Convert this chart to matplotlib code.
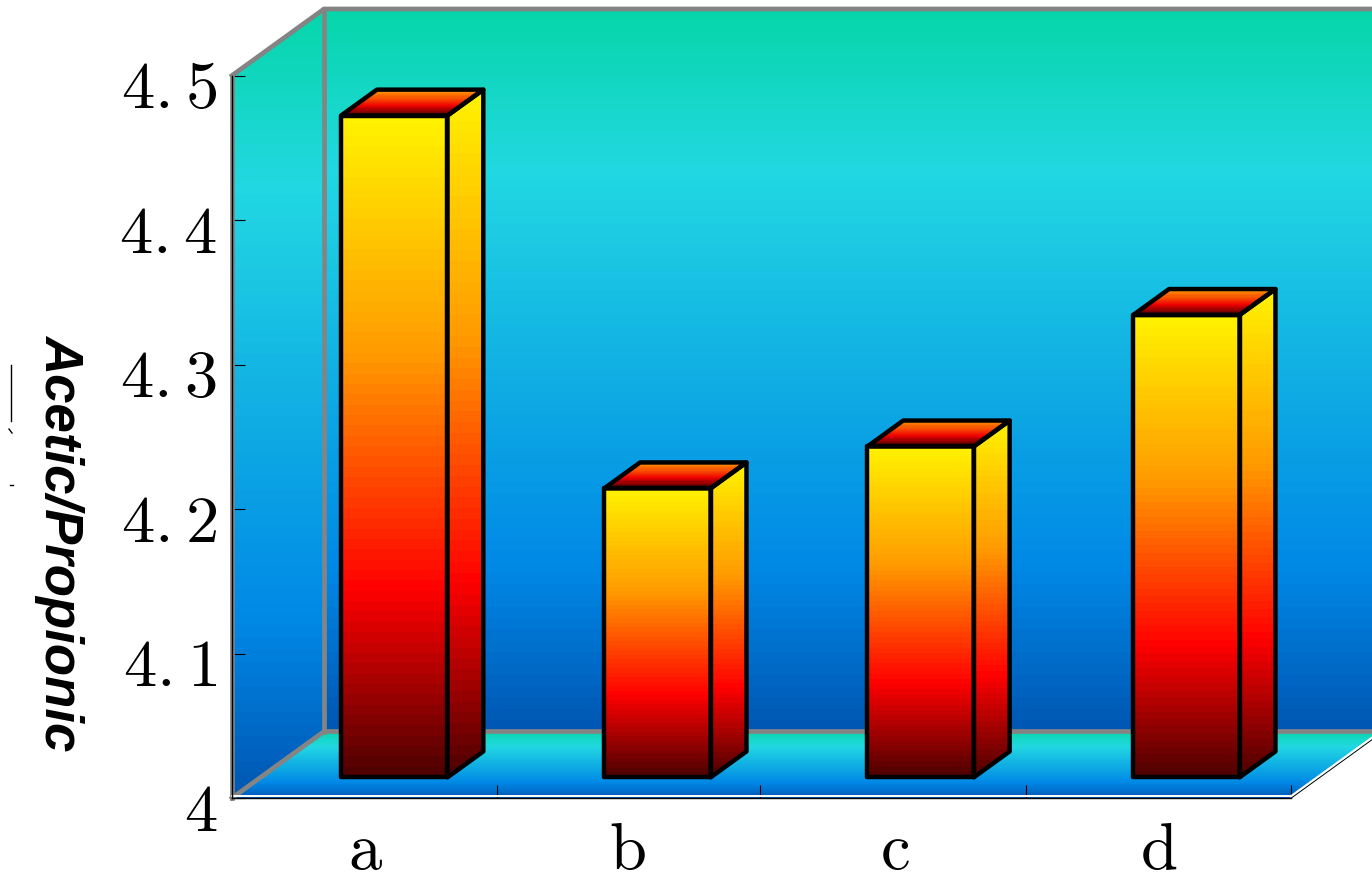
import matplotlib
matplotlib.use('Agg')
import matplotlib.pyplot as plt
import numpy as np
from matplotlib.colors import LinearSegmentedColormap
from matplotlib.lines import Line2D
from matplotlib.patches import Polygon
from matplotlib.transforms import ScaledTranslation

categories = ['a', 'b', 'c', 'd']
values = [4.458, 4.200, 4.229, 4.320]
y_ticks = [4.0, 4.1, 4.2, 4.3, 4.4, 4.5]
y_tick_labels = ['4', '4. 1', '4. 2', '4. 3', '4. 4', '4. 5']
y_title = 'Acetic/Propionic'

# layout, in pixels of the 1372x880 picture
W, H = 1372, 880
LEFT, RIGHT, TOP, BOTTOM = 232, 1291, 75.5, 798
DX, DY = 92, 66.5        # depth of the box
BAR_DEPTH0 = 0.31        # front of the bars, as share of the box depth
BAR_DEPTH1 = 0.70        # back of the bars
BAR_WIDTH = 0.402
bar_centers = [0.505, 1.499, 2.493, 3.497]
edge_ticks = [1.0, 1.994, 3.0, 4.0]
label_centers = [0.505, 1.495, 2.505, 3.5]

plt.rcParams['mathtext.fontset'] = 'cm'

wall_cmap = LinearSegmentedColormap.from_list('wall', [
    (0.0, '#06d6aa'), (0.22, '#22d8e2'), (0.78, '#0088e6'), (1.0, '#0058b4')], N=64)
bar_cmap = LinearSegmentedColormap.from_list('bar', [
    (0.0, '#fff200'), (0.36, '#ff9a00'), (0.72, '#ff0000'), (1.0, '#500000')], N=64)
lid_cmap = LinearSegmentedColormap.from_list('lid', [
    (0.0, '#ffa000'), (0.62, '#f00000'), (1.0, '#400000')], N=24)

fig = plt.figure(figsize=(W / 100, H / 100), dpi=100)
ax = fig.add_axes([LEFT / W, 1 - BOTTOM / H, (RIGHT - LEFT) / W, (BOTTOM - TOP) / H])
ax.set_xlim(0, 4)
ax.set_ylim(4, 4.5)
ax.patch.set_visible(False)

dx_data = DX / (RIGHT - LEFT) * 4
dy_data = DY / (BOTTOM - TOP) * 0.5
grad = np.linspace(0, 1, 256).reshape(-1, 1)


def pt(x, y, depth=0.0):
    return (x + depth * dx_data, y + depth * dy_data)


def shade(corners, cmap, z=1):
    # vertical gradient over the bounding box, cut to the polygon
    xs = [c[0] for c in corners]
    ys = [c[1] for c in corners]
    im = ax.imshow(grad, cmap=cmap, aspect='auto', origin='upper', zorder=z,
                   extent=(min(xs), max(xs), min(ys), max(ys)), interpolation='nearest')
    im.set_clip_path(Polygon(corners, closed=True, transform=ax.transData))
    im.set_clip_box(fig.bbox)


def outline(corners, color, lw, z, closed=True):
    ax.add_patch(Polygon(corners, closed=closed, fill=False, edgecolor=color, linewidth=lw,
                         zorder=z, clip_on=False, joinstyle='round'))


# walls and floor
back = [pt(0, 4, 1), pt(4, 4, 1), pt(4, 4.5, 1), pt(0, 4.5, 1)]
side = [pt(0, 4, 0), pt(0, 4, 1), pt(0, 4.5, 1), pt(0, 4.5, 0)]
floor = [pt(0, 4, 0), pt(4, 4, 0), pt(4, 4, 1), pt(0, 4, 1)]
shade(back, wall_cmap)
shade(side, wall_cmap)
shade(floor, wall_cmap)

grey = '#848484'
for seg in ([pt(0, 4.5, 0), pt(0, 4.5, 1), pt(4, 4.5, 1)],
            [pt(0, 4, 0), pt(0, 4, 1), pt(4, 4, 1)],
            [pt(0, 4, 1), pt(0, 4.5, 1)],
            [pt(0, 4, 0), pt(0, 4.5, 0)]):
    ax.plot(*zip(*seg), color=grey, lw=3.4, zorder=3, clip_on=False, solid_joinstyle='miter')

# right edge of the floor
ax.plot(*zip(pt(4, 4, 0), pt(4, 4, 1)), color='black', lw=1.0, zorder=3, clip_on=False)
ax.plot(*zip(pt(4, 4.0012, 0), pt(4, 4.0012, 1)), color='white', lw=1.6, zorder=3, clip_on=False)
ax.plot([0, 4], [4.0016, 4.0016], color='white', lw=1.4, zorder=3, clip_on=False)

# bars
base = 4.0
for cx, v in zip(bar_centers, values):
    x0, x1 = cx - BAR_WIDTH / 2, cx + BAR_WIDTH / 2
    front = [pt(x0, base, BAR_DEPTH0), pt(x1, base, BAR_DEPTH0), pt(x1, v, BAR_DEPTH0), pt(x0, v, BAR_DEPTH0)]
    right = [pt(x1, base, BAR_DEPTH0), pt(x1, base, BAR_DEPTH1), pt(x1, v, BAR_DEPTH1), pt(x1, v, BAR_DEPTH0)]
    lid = [pt(x0, v, BAR_DEPTH0), pt(x1, v, BAR_DEPTH0), pt(x1, v, BAR_DEPTH1), pt(x0, v, BAR_DEPTH1)]
    shade(right, bar_cmap, 4)
    shade(front, bar_cmap, 4)
    shade(lid, lid_cmap, 4)
    for poly in (right, lid, front):
        outline(poly, 'black', 3.2, 5)

# axes
for name in ('top', 'right'):
    ax.spines[name].set_visible(False)
for name in ('left', 'bottom'):
    ax.spines[name].set_linewidth(1.0)
    ax.spines[name].set_zorder(6)

ax.set_yticks(y_ticks)
ax.set_yticklabels([r'$\mathrm{' + t.replace(' ', r'\hspace{0.02}') + '}$' for t in y_tick_labels], fontsize=48)
ax.tick_params(axis='y', direction='in', length=9.5, width=0.8, pad=10.5, zorder=6)
ax.set_xticks(edge_ticks)
ax.set_xticklabels([])
ax.tick_params(axis='x', which='major', direction='in', length=9.5, width=0.8)
ax.set_xticks(label_centers, minor=True)
ax.set_xticklabels([r'$\mathrm{' + c + '}$' for c in categories], minor=True, fontsize=48)
ax.tick_params(axis='x', which='minor', length=0, pad=13.5)

shift = ScaledTranslation(0, -5 / 72, fig.dpi_scale_trans)
for label in ax.get_yticklabels():
    label.set_transform(label.get_transform() + shift)

fig.text(60 / W, 1 - 542 / H, y_title, rotation=-90, ha='center', va='center', fontsize=38,
         family='Liberation Sans', fontweight='bold', fontstyle='italic')

# bits of a clipped second title line at the left edge
for xs, ys in (([11, 11], [365, 421]), ([9, 12], [429, 433]), ([10, 13], [485, 485])):
    fig.add_artist(Line2D([x / W for x in xs], [1 - y / H for y in ys], color='black', lw=1.0))

fig.savefig('out.png', dpi=100)
